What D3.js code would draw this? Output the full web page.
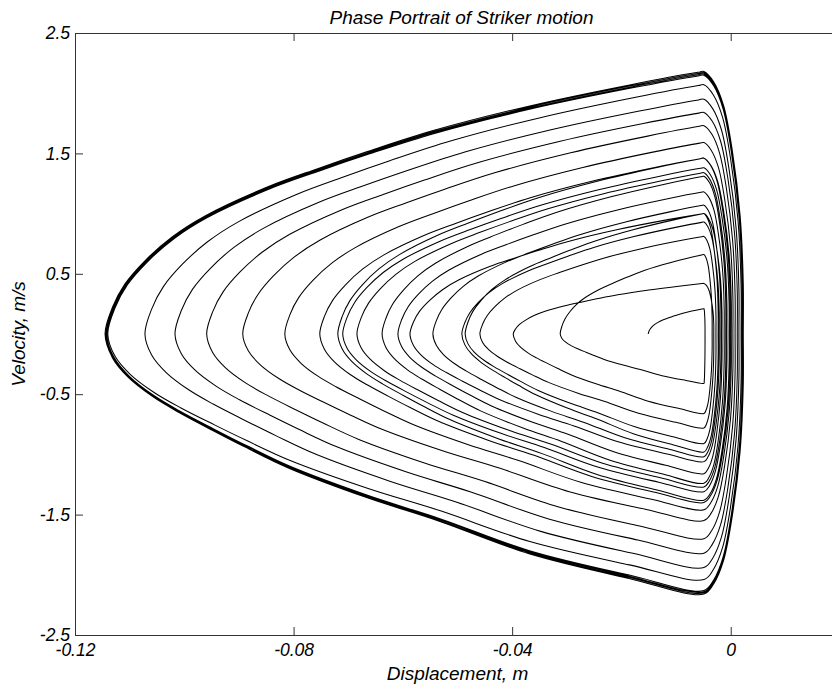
<!DOCTYPE html>
<html>
<head>
<meta charset="utf-8">
<script src="https://cdn.jsdelivr.net/npm/d3@7"></script>
<style>
  html, body { margin: 0; padding: 0; background: #fff; }
  svg { display: block; }
  text { font-family: "Liberation Sans", Arial, Helvetica, sans-serif; font-style: italic; fill: #000; }
</style>
</head>
<body>
<svg id="chart" width="832" height="694"></svg>
<script>
// ---------------- data ----------------
const titleText = "Phase Portrait of Striker motion";
const xLabelText = "Displacement, m";
const yLabelText = "Velocity, m/s";

const xDomain = [-0.12, 0.02];
const yDomain = [-2.5, 2.5];
const xTickValues = [-0.12, -0.08, -0.04, 0];
const xTickLabels = ["-0.12", "-0.08", "-0.04", "0"];
const yTickValues = [2.5, 1.5, 0.5, -0.5, -1.5, -2.5];
const yTickLabels = ["2.5", "1.5", "0.5", "-0.5", "-1.5", "-2.5"];

// Successive revolutions of the trajectory, innermost (first) to outer limit cycle (last).
// left-tip displacement (m) where velocity crosses zero on the left, one more than loops
const loopTipD = [-0.0151, -0.0312, -0.0398, -0.0459, -0.0486, -0.0492, -0.0545, -0.0587,
                  -0.0609, -0.0638, -0.0684, -0.0710, -0.0719, -0.0752, -0.0816, -0.0893,
                  -0.0959, -0.1017, -0.1072, -0.1140, -0.1142, -0.1143, -0.1145, -0.1145];
// velocity at the upper right corner (m/s)
const loopTopV = [0.21, 0.66, 0.42, 0.81, 1.00, 0.93, 1.07, 1.00, 1.18, 1.31, 1.34, 1.38,
                  1.46, 1.46, 1.59, 1.73, 1.84, 1.95, 2.07, 2.15, 2.16, 2.17, 2.18];
// velocity at the lower right corner (m/s)
const loopBottomV = [-0.41, -0.66, -0.78, -0.91, -0.98, -1.02, -1.06, -1.16, -1.24, -1.27,
                     -1.31, -1.38, -1.40, -1.46, -1.55, -1.70, -1.82, -1.94, -2.04, -2.13,
                     -2.14, -2.15, -2.16];
// right-most displacement reached near zero velocity (m)
const loopRightD = [-0.0047, -0.0034, -0.0031, -0.0027, -0.0023, -0.0021, -0.0018, -0.0016,
                    -0.0012, -0.0009, -0.0007, -0.0003, -0.0001, 0.0001, 0.0004, 0.0008,
                    0.0012, 0.0015, 0.0019, 0.0021, 0.0022, 0.0023, 0.0023];
// displacement of the corners where the striker meets the stop (m)
const cornerD = -0.0049;

// Shape of a revolution, read off the outer limit cycle:
// [fraction of way from tip to corner, fraction of corner velocity]
const upperShape = [[0, 0], [0.012, 0.10], [0.033, 0.19], [0.067, 0.28], [0.112, 0.37],
                    [0.167, 0.45], [0.271, 0.56], [0.355, 0.63], [0.438, 0.695], [0.548, 0.775],
                    [0.711, 0.87], [0.878, 0.95], [0.99, 0.997], [1, 1]];
// [fraction of way from corner to right-most point, fraction of corner velocity]
const rightShape = [[0.25, 0.96], [0.5, 0.87], [0.72, 0.70], [0.92, 0.45], [1, 0.19], [1, 0],
                    [1, -0.19], [0.92, -0.45], [0.72, -0.70], [0.5, -0.87], [0.25, -0.96]];
const lowerShape = [[1, 1], [0.875, 0.94], [0.708, 0.845], [0.558, 0.72], [0.438, 0.63],
                    [0.306, 0.515], [0.234, 0.435], [0.179, 0.37], [0.122, 0.30], [0.079, 0.24],
                    [0.038, 0.165], [0.012, 0.09], [0, 0]];

// ---------------- drawing ----------------
const svg = d3.select("#chart");
const margin = { left: 75, top: 33, right: 840, bottom: 635 };

const x = d3.scaleLinear().domain(xDomain).range([margin.left, margin.right]);
const y = d3.scaleLinear().domain(yDomain).range([margin.bottom, margin.top]);

// trajectory points
const traj = [];
for (let i = 0; i < loopTopV.length; i++) {
  const t0 = loopTipD[i], t1 = loopTipD[i + 1];
  const top = loopTopV[i], bot = loopBottomV[i], r = loopRightD[i];
  upperShape.forEach(([u, w], k) => {
    if (i > 0 && k === 0) return;
    traj.push([t0 + u * (cornerD - t0), w * top]);
  });
  rightShape.forEach(([s, w]) => {
    traj.push([cornerD + s * (r - cornerD), w >= 0 ? w * top : -w * bot]);
  });
  lowerShape.forEach(([u, w]) => {
    traj.push([t1 + u * (cornerD - t1), w * bot]);
  });
}

const line = d3.line()
  .x(d => x(d[0]))
  .y(d => y(d[1]))
  .curve(d3.curveCatmullRom.alpha(0.5));

svg.append("path")
  .datum(traj)
  .attr("d", line)
  .attr("fill", "none")
  .attr("stroke", "#000")
  .attr("stroke-width", 1.05)
  .attr("stroke-linejoin", "round");

// axes
const axisColor = "#333";
const tickFont = "17.5px";
const labelFont = "19px";

const gx = svg.append("g")
  .attr("transform", `translate(0,${margin.bottom})`)
  .call(d3.axisBottom(x).tickValues(xTickValues)
    .tickFormat((d, i) => xTickLabels[i])
    .tickSizeInner(-8).tickSizeOuter(0).tickPadding(9));

const gxt = svg.append("g")
  .attr("transform", `translate(0,${margin.top})`)
  .call(d3.axisTop(x).tickValues(xTickValues.concat([0.02]))
    .tickFormat("")
    .tickSizeInner(-8).tickSizeOuter(0));

const gy = svg.append("g")
  .attr("transform", `translate(${margin.left},0)`)
  .call(d3.axisLeft(y).tickValues(yTickValues)
    .tickFormat((d, i) => yTickLabels[i])
    .tickSizeInner(-8).tickSizeOuter(0).tickPadding(5));

const gyr = svg.append("g")
  .attr("transform", `translate(${margin.right},0)`)
  .call(d3.axisRight(y).tickValues(yTickValues)
    .tickFormat("")
    .tickSizeInner(-8).tickSizeOuter(0));

[gx, gxt, gy, gyr].forEach(g => {
  g.selectAll("path.domain").attr("stroke", axisColor).attr("stroke-width", 1);
  g.selectAll(".tick line").attr("stroke", axisColor).attr("stroke-width", 1);
  g.selectAll(".tick text")
    .attr("fill", "#000")
    .style("font-size", tickFont)
    .style("font-style", "italic")
    .style("font-family", "'Liberation Sans', Arial, sans-serif");
  g.attr("font-family", null).attr("font-size", null);
});

// title and labels
const cx = (margin.left + margin.right) / 2;
svg.append("text")
  .attr("x", cx + 4).attr("y", 24)
  .attr("text-anchor", "middle")
  .style("font-size", labelFont)
  .text(titleText);

svg.append("text")
  .attr("x", cx).attr("y", 680)
  .attr("text-anchor", "middle")
  .style("font-size", labelFont)
  .text(xLabelText);

svg.append("text")
  .attr("transform", `translate(25,${(margin.top + margin.bottom) / 2}) rotate(-90)`)
  .attr("text-anchor", "middle")
  .style("font-size", labelFont)
  .text(yLabelText);
</script>
</body>
</html>
